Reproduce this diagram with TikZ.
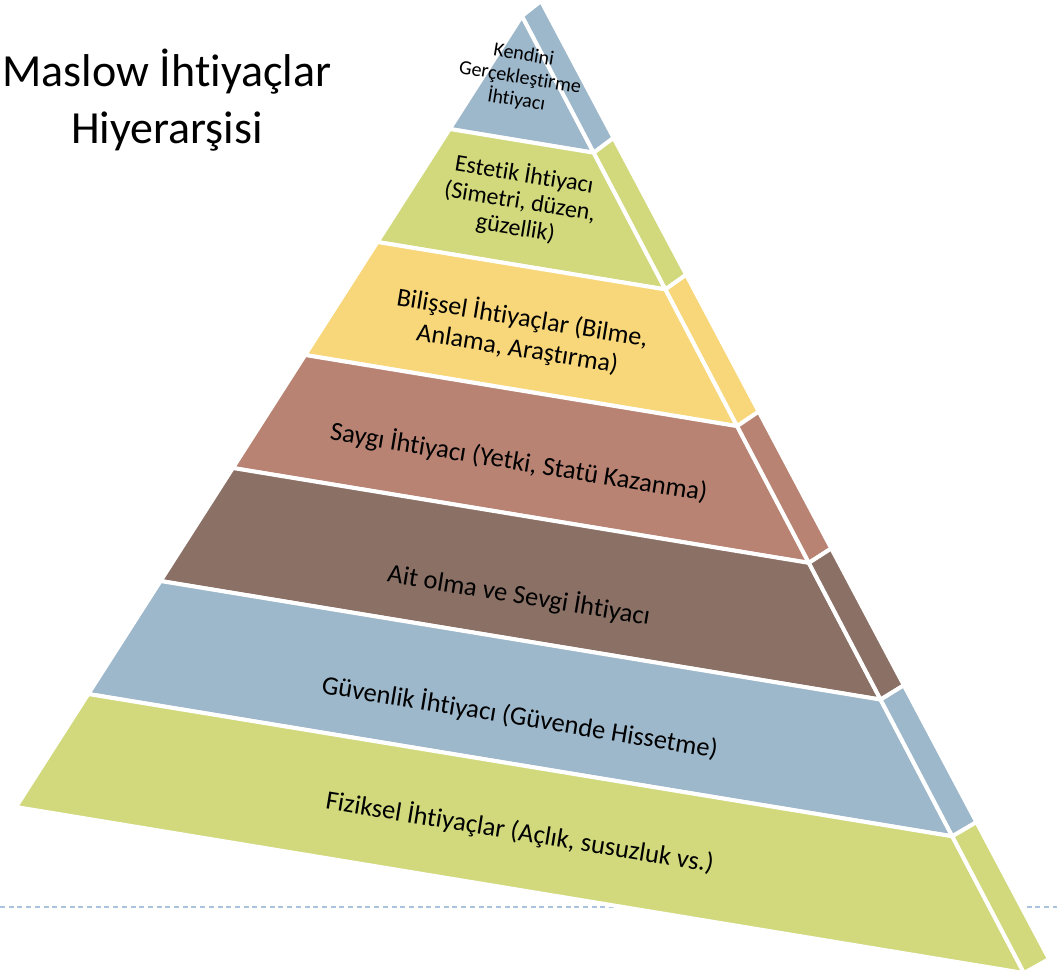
\documentclass[tikz,border=0pt]{standalone}
\usepackage{fontspec}
\setmainfont{Carlito}[Ligatures = NoCommon]
\usetikzlibrary{calc}
\usetikzlibrary{positioning}
\definecolor{blueband}{HTML}{9DB7CB}
\definecolor{greenband}{HTML}{D1D97C}
\definecolor{yellowband}{HTML}{F8D77A}
\definecolor{roseband}{HTML}{B88373}
\definecolor{brownband}{HTML}{8B7065}
\definecolor{slidedash}{HTML}{A9C4DC}
\tikzset{band/.style = {draw = white, line width = 4, line join = round}}
\tikzset{bandtext/.style = {align = center, rotate = -9.3, inner sep = 0,
                            font = \fontsize{26.5}{31}\selectfont}}

\begin{document}
\begin{tikzpicture}[x = 1pt, y = -1pt]
      \useasboundingbox (0, 0) rectangle (1057, 975);

      \draw [slidedash, line width = 1.5, dash pattern = on 5 off 3.7] (0, 907) -- (1057, 907);

      \coordinate (apex) at (522, 16);
      \coordinate (left) at (16, 807);
      \coordinate (right) at (1024, 973);
      \coordinate (sidetop) at (541, 1);
      \coordinate (sidebot) at (1049, 959);

      \foreach \k/\c in {0/blueband, 1/greenband, 2/yellowband, 3/roseband,
                         4/brownband, 5/blueband, 6/greenband} {
        \pgfmathsetmacro{\t}{\k/7}
        \pgfmathsetmacro{\u}{(\k+1)/7}
        \draw [band, fill = \c] ($(apex)!\t!(left)$) -- ($(apex)!\u!(left)$)
          -- ($(apex)!\u!(right)$) -- ($(apex)!\t!(right)$) -- cycle;
        \draw [band, fill = \c] ($(apex)!\t!(right)$) -- ($(apex)!\u!(right)$)
          -- ($(sidetop)!\u!(sidebot)$) -- ($(sidetop)!\t!(sidebot)$) -- cycle;
      }

      \node [align = center, font = \fontsize{46}{57}\selectfont] (title) at (167, 100)
        {Maslow İhtiyaçlar\\Hiyerarşisi};

      \node [bandtext, font = \fontsize{20}{23}\selectfont] (selfact) at (520, 78)
        {Kendini\\Gerçekleştirme\\İhtiyacı};
      \node [bandtext, font = \fontsize{24}{27}\selectfont] (aesthetic) at (520, 201)
        {Estetik İhtiyacı\\(Simetri, düzen,\\güzellik)};
      \node [bandtext, font = \fontsize{26}{31}\selectfont] (cognitive) at (520, 333)
        {Bilişsel İhtiyaçlar (Bilme,\\Anlama, Araştırma)};
      \node [bandtext] (esteem) at (519, 462) {Saygı İhtiyacı (Yetki, Statü Kazanma)};
      \node [bandtext] (belonging) at (519, 595) {Ait olma ve Sevgi İhtiyacı};
      \node [bandtext] (safety) at (520, 717) {Güvenlik İhtiyacı (Güvende Hissetme)};
      \node [bandtext] (physical) at (520, 832) {Fiziksel İhtiyaçlar (Açlık, susuzluk vs.)};
    \end{tikzpicture}
\end{document}
